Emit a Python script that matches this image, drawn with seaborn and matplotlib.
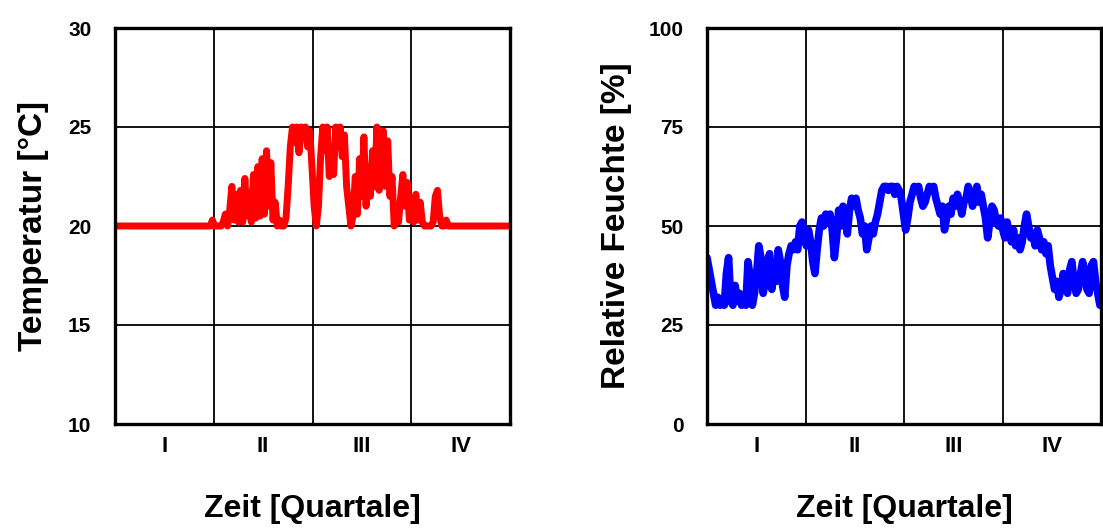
import numpy as np
import pandas as pd
import matplotlib
matplotlib.use("Agg")
import matplotlib.pyplot as plt
import seaborn as sns
from matplotlib.ticker import FixedLocator, NullFormatter, FixedFormatter

sns.set_style("white")
plt.rcParams['font.family'] = ['Liberation Sans', 'DejaVu Sans']
plt.rcParams['text.color'] = 'black'
plt.rcParams['axes.labelcolor'] = 'black'
plt.rcParams['xtick.color'] = 'black'
plt.rcParams['ytick.color'] = 'black'

# ---------------- data ----------------
quarter_labels = ["I", "II", "III", "IV"]
year_days = 365

# temperature (°C), sampled every 2 days from day 88 to day 310; flat 20 °C before/after
temp_start_day, temp_end_day = 88, 310
temp_mid = [
    20.0, 20.3, 20.0, 20.0, 20.0, 20.0, 20.2, 20.6, 20.0, 20.8,
    22.0, 20.3, 21.6, 20.2, 21.8, 20.2, 22.4, 20.5, 21.7, 20.2,
    22.6, 20.4, 23.0, 20.5, 23.4, 20.6, 23.8, 21.0, 23.2, 20.3,
    21.2, 20.0, 20.3, 20.0, 20.0, 20.4, 22.0, 24.0, 25.0, 24.2,
    25.0, 23.7, 25.0, 24.5, 25.0, 24.0, 24.8, 23.0, 21.0, 20.0,
    21.0, 23.5, 25.0, 23.8, 25.0, 22.5, 24.0, 22.6, 25.0, 24.0,
    25.0, 23.5, 24.6, 22.0, 21.0, 20.0, 20.5, 22.5, 20.6, 23.4,
    21.5, 24.5, 21.0, 23.0, 21.5, 23.8, 22.0, 25.0, 21.8, 23.6,
    24.8, 22.0, 24.3, 21.5, 22.5, 20.0, 20.8, 20.2, 21.5, 22.6,
    21.0, 22.2, 20.3, 21.4, 20.2, 21.6, 20.3, 21.2, 20.2, 20.0,
    20.0, 20.0, 20.0, 20.2, 21.5, 21.8, 20.5, 20.0, 20.0, 20.3,
    20.0, 20.0,
]
temp_base = 20.0

# relative humidity (%), sampled every 2 days over the year
humidity = [
    42, 39, 36, 33, 30, 32, 30, 31, 30, 38, 42, 31, 30, 35, 31, 33, 30, 31, 30, 41,
    37, 30, 33, 38, 45, 42, 33, 36, 41, 43, 34, 40, 36, 44, 41, 35, 32, 40, 43, 45,
    44, 46, 44, 50, 51, 48, 45, 49, 46, 41, 38, 44, 49, 52, 50, 53, 51, 53, 49, 42,
    47, 54, 50, 55, 52, 48, 54, 57, 55, 57, 54, 52, 48, 50, 44, 47, 50, 48, 51, 53,
    56, 59, 60, 60, 59, 60, 60, 58, 60, 59, 57, 53, 49, 52, 56, 58, 60, 59, 60, 57,
    55, 56, 58, 60, 59, 60, 57, 55, 53, 55, 49, 52, 55, 53, 57, 55, 58, 56, 53, 56,
    57, 60, 58, 55, 57, 60, 56, 58, 55, 52, 47, 51, 55, 54, 51, 50, 52, 49, 47, 51,
    48, 46, 49, 45, 47, 44, 46, 50, 53, 50, 47, 48, 45, 49, 47, 44, 46, 43, 45, 40,
    37, 34, 36, 32, 34, 38, 35, 33, 39, 41, 36, 33, 34, 38, 41, 38, 34, 33, 40, 41,
    36, 33, 30,
]

temp_days = np.concatenate([[0], np.linspace(temp_start_day, temp_end_day, len(temp_mid)), [year_days]])
temp_vals = np.concatenate([[temp_base], temp_mid, [temp_base]])
hum_days = np.linspace(0, 364, len(humidity))

df_t = pd.DataFrame({"day": temp_days, "temp": temp_vals})
df_h = pd.DataFrame({"day": hum_days, "hum": humidity})

# ---------------- figure ----------------
W, H = 1103, 530
fig = plt.figure(figsize=(W / 100, H / 100), dpi=100)
ax1 = fig.add_axes([115 / W, 1 - 424 / H, 395 / W, 396 / H])
ax2 = fig.add_axes([707 / W, 1 - 424 / H, 394 / W, 396 / H])

sns.lineplot(data=df_t, x="day", y="temp", ax=ax1, color="#ff0000", lw=5,
             estimator=None, sort=False, zorder=3)
sns.lineplot(data=df_h, x="day", y="hum", ax=ax2, color="#0000ff", lw=5.5,
             estimator=None, sort=False, zorder=3)

q = year_days / 4
bounds = [q * i for i in range(5)]
mids = [q * (i + 0.5) for i in range(4)]

def style(ax, ylim, yticks, minor_y, ylabel, lpad):
    ax.set_xlim(0, year_days)
    ax.set_ylim(*ylim)
    ax.xaxis.set_major_locator(FixedLocator(bounds))
    ax.xaxis.set_major_formatter(NullFormatter())
    ax.xaxis.set_minor_locator(FixedLocator(mids))
    ax.xaxis.set_minor_formatter(FixedFormatter(quarter_labels))
    ax.set_yticks(yticks)
    ax.yaxis.set_minor_locator(FixedLocator(minor_y))
    ax.tick_params(axis="x", which="major", length=0)
    ax.tick_params(axis="x", which="minor", length=0, pad=9, labelsize=16)
    ax.tick_params(axis="y", which="major", length=0, pad=17, labelsize=15)
    ax.tick_params(axis="y", which="minor", direction="in", length=4, width=0.8, color="#aaaaaa")
    for lab in ax.get_xticklabels(minor=True) + ax.get_yticklabels():
        lab.set_fontweight("bold")
    ax.grid(True, which="major", color="black", lw=1.3, zorder=1)
    for s in ax.spines.values():
        s.set_visible(True)
        s.set_color("black")
        s.set_linewidth(2.4)
        s.set_zorder(4)
    ax.set_xlabel("Zeit [Quartale]", fontsize=23, fontweight="bold", labelpad=26)
    ax.set_ylabel(ylabel, fontsize=24, fontweight="bold", labelpad=lpad)

style(ax1, (10, 30), [10, 15, 20, 25, 30], [12.5, 17.5, 22.5, 27.5], "Temperatur [°C]", 14)
style(ax2, (0, 100), [0, 25, 50, 75, 100], [12.5, 37.5, 62.5, 87.5], "Relative Feuchte [%]", 12)

fig.savefig("out.png", dpi=100, facecolor="white")
